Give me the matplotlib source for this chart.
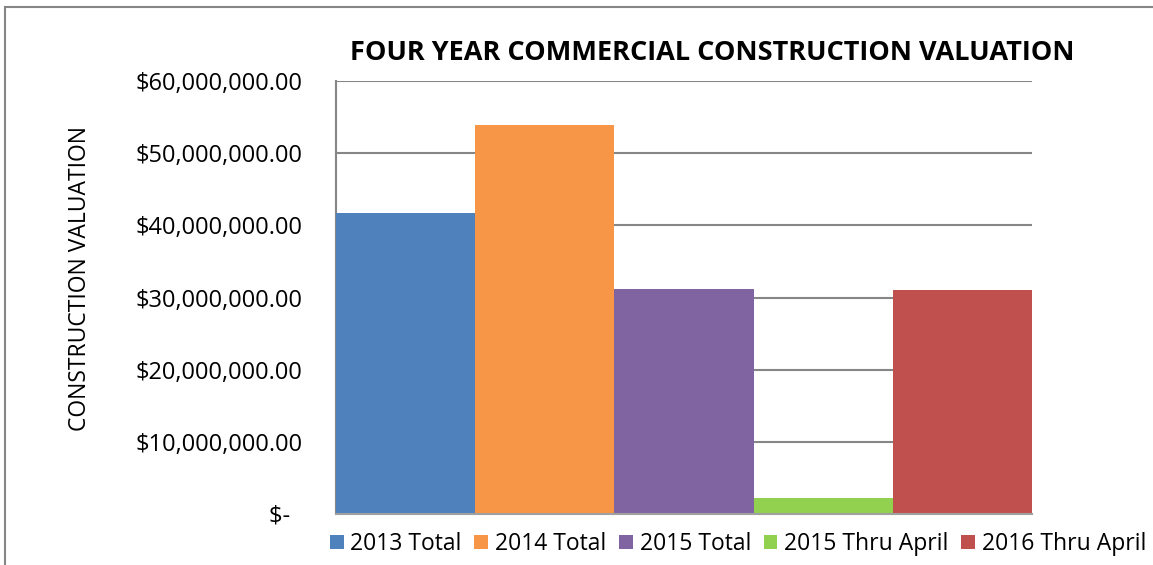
import matplotlib
matplotlib.use("Agg")
import matplotlib.pyplot as plt
from matplotlib.patches import Rectangle, Patch

categories = ["2013 Total", "2014 Total", "2015 Total", "2015 Thru April", "2016 Thru April"]
values = [41.7e6, 53.9e6, 31.2e6, 2.2e6, 31.0e6]
colors = ["#4F81BD", "#F79646", "#8064A2", "#92D050", "#C0504D"]
yticks = [0, 10e6, 20e6, 30e6, 40e6, 50e6, 60e6]
ytick_labels = ["$-  ", "$10,000,000.00", "$20,000,000.00", "$30,000,000.00",
                "$40,000,000.00", "$50,000,000.00", "$60,000,000.00"]

plt.rcParams['font.family'] = ['Open Sans', 'DejaVu Sans']

W, H = 1153, 565
fig = plt.figure(figsize=(W / 100, H / 100), dpi=100)
ax = fig.add_axes([336 / W, 1 - 514 / H, (1032 - 336) / W, (514 - 81) / H])

x = list(range(len(categories)))
ax.bar(x, values, width=1.0, color=colors, zorder=3)
ax.set_xlim(-0.5, len(categories) - 0.5)
ax.set_ylim(0, 60e6)
ax.set_yticks(yticks)
ax.set_yticklabels(ytick_labels, fontsize=17)
ax.tick_params(axis='y', length=0, pad=24)
ax.set_xticks([])
ax.yaxis.grid(True, color="#868686", linewidth=1.5, zorder=0)
for s in ["top", "right"]:
    ax.spines[s].set_visible(False)
ax.spines["left"].set_color("#868686")
ax.spines["left"].set_linewidth(1.5)
ax.spines["bottom"].set_color("#A0A0A0")
ax.spines["bottom"].set_linewidth(1.5)
ax.spines["bottom"].set_zorder(4)

ax.set_ylabel("CONSTRUCTION VALUATION", fontsize=16.5)
ax.yaxis.set_label_coords((92 - 336) / (1032 - 336), 0.545)

fig.text(712 / W, 1 - 53 / H, "FOUR YEAR COMMERCIAL CONSTRUCTION VALUATION",
         ha="center", va="center", fontsize=19.5, fontweight="bold")

handles = [Patch(facecolor=c, edgecolor='none') for c in colors]
fig.legend(handles, categories, loc="center", bbox_to_anchor=(738 / W, 1 - 544 / H),
           ncol=5, frameon=False, fontsize=16.5, handlelength=0.6, handleheight=0.6,
           handletextpad=0.3, columnspacing=0.55, borderaxespad=0)

fig.patches.append(Rectangle((5 / W, -0.1), 1.2, 1 - 7 / H + 0.1, transform=fig.transFigure,
                             fill=False, edgecolor="#868686", linewidth=1.5))

fig.savefig("out.png", dpi=100)
